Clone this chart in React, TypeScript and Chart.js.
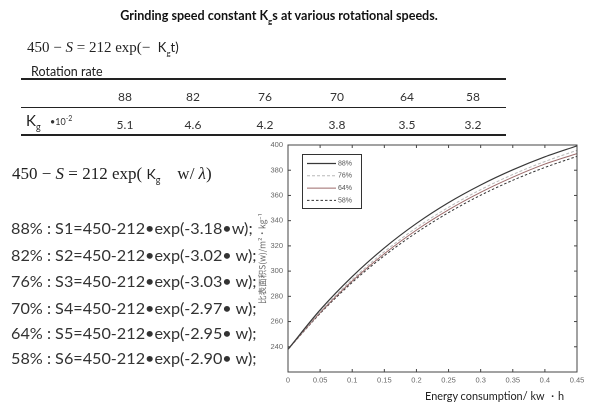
import React, { useEffect, useRef } from 'react';
import { Chart, registerables } from 'chart.js';

Chart.register(...registerables);

// ---- Data ----
const rotationRates = ['88', '82', '76', '70', '64', '58'];
const kgValues = ['5.1', '4.6', '4.2', '3.8', '3.5', '3.2'];
const fitLabels = ['88%', '82%', '76%', '70%', '64%', '58%'];
const fitNames = ['S1', 'S2', 'S3', 'S4', 'S5', 'S6'];
const fitCoefficients = ['-3.18•w', '-3.02• w', '-3.03• w', '-2.97• w', '-2.95• w', '-2.90• w'];

const energy = [0, 0.05, 0.1, 0.15, 0.2, 0.25, 0.3, 0.35, 0.4, 0.45];
const s88 = [238, 269.2, 295.7, 318.4, 337.8, 354.3, 368.3, 380.3, 390.6, 399.3];
const s76 = [238, 267.8, 293.4, 315.4, 334.4, 350.6, 364.6, 376.6, 386.9, 395.8];
const s64 = [238, 267.1, 292.2, 313.8, 332.5, 348.6, 362.5, 374.5, 384.9, 393.2];
const s58 = [238, 266.4, 291.0, 312.2, 330.5, 346.4, 360.2, 372.0, 382.2, 391.0];
const seriesLabels = ['88%', '76%', '64%', '58%'];

const xMin = 0;
const xMax = 0.45;
const xStep = 0.05;
const yMin = 220;
const yMax = 400;
const yStep = 20;

const sans = 'Lato, "Open Sans", sans-serif';

const framePlugin = {
  id: 'frameAndLegend',
  afterDatasetsDraw(chart: any) {
    const { ctx, chartArea: a, scales } = chart;
    ctx.save();
    ctx.strokeStyle = '#444';
    ctx.lineWidth = 1;
    ctx.strokeRect(a.left, a.top, a.right - a.left, a.bottom - a.top);
    const tl = 3;
    const seg = (x1: number, y1: number, x2: number, y2: number) => {
      ctx.beginPath();
      ctx.moveTo(x1, y1);
      ctx.lineTo(x2, y2);
      ctx.stroke();
    };
    scales.x.ticks.forEach((t: any) => {
      const px = scales.x.getPixelForValue(t.value);
      seg(px, a.bottom, px, a.bottom - tl);
      seg(px, a.top, px, a.top + tl);
    });
    scales.y.ticks.forEach((t: any) => {
      const py = scales.y.getPixelForValue(t.value);
      seg(a.left, py, a.left + tl, py);
      seg(a.right, py, a.right - tl, py);
    });

    // legend box
    const bx = a.left + 14;
    const by = a.top + 9;
    const bw = 59;
    const bh = 54;
    ctx.fillStyle = '#fff';
    ctx.fillRect(bx, by, bw, bh);
    ctx.strokeStyle = '#333';
    ctx.strokeRect(bx + 0.5, by + 0.5, bw, bh);
    ctx.font = '7px "Liberation Sans", sans-serif';
    ctx.textBaseline = 'middle';
    chart.data.datasets.forEach((ds: any, i: number) => {
      const yy = by + 9.5 + i * 12.3;
      ctx.strokeStyle = ds.borderColor;
      ctx.lineWidth = ds.borderWidth;
      ctx.setLineDash(ds.borderDash || []);
      seg(bx + 5, yy, bx + 34, yy);
      ctx.setLineDash([]);
      ctx.fillStyle = '#555';
      ctx.fillText(ds.label, bx + 36, yy);
    });
    ctx.restore();
  },
};

function ChartCanvas() {
  const ref = useRef<HTMLCanvasElement>(null);
  useEffect(() => {
    if (!ref.current) return;
    const toPts = (ys: number[]) => ys.map((y, i) => ({ x: energy[i], y }));
    const chart = new Chart(ref.current, {
      type: 'line',
      data: {
        datasets: [
          { label: seriesLabels[0], data: toPts(s88), borderColor: '#383838', borderWidth: 1.2, borderDash: [] },
          { label: seriesLabels[1], data: toPts(s76), borderColor: '#b9b9b9', borderWidth: 1, borderDash: [3, 2] },
          { label: seriesLabels[2], data: toPts(s64), borderColor: '#9c6b6b', borderWidth: 1, borderDash: [] },
          { label: seriesLabels[3], data: toPts(s58), borderColor: '#333333', borderWidth: 1, borderDash: [2.5, 2] },
        ] as any,
      },
      options: {
        animation: false,
        responsive: false,
        devicePixelRatio: 2,
        layout: { padding: { left: 253, right: 25, top: 145, bottom: 0 } },
        elements: {
          point: { radius: 0 },
          line: { cubicInterpolationMode: 'monotone' },
        },
        plugins: {
          legend: { display: false },
          tooltip: { enabled: false },
        },
        scales: {
          x: {
            type: 'linear',
            min: xMin,
            max: xMax,
            grid: { display: false, drawTicks: false },
            border: { display: false },
            ticks: {
              stepSize: xStep,
              padding: 4,
              color: '#666',
              font: { family: '"Liberation Sans", sans-serif', size: 7.5 },
              callback: (v: any) => String(Number(Number(v).toFixed(2))),
              maxRotation: 0,
            },
            afterFit: (s: any) => {
              s.height = 43;
            },
          },
          y: {
            type: 'linear',
            min: yMin,
            max: yMax,
            grid: { display: false, drawTicks: false },
            border: { display: false },
            ticks: {
              stepSize: yStep,
              padding: 5,
              color: '#666',
              font: { family: '"Liberation Sans", sans-serif', size: 7.5 },
              callback: (v: any) => (Number(v) === yMin ? '' : String(v)),
            },
            title: {
              display: true,
              text: '比表面积S(w)/m²·kg⁻¹',
              color: '#666',
              font: { family: '"Noto Sans CJK SC", sans-serif', size: 8.5 },
              padding: { top: 4, bottom: 0 },
            },
            afterFit: (s: any) => {
              s.width = 35;
            },
          },
        },
      },
      plugins: [framePlugin],
    } as any);
    return () => chart.destroy();
  }, []);
  return (
    <canvas
      ref={ref}
      width={602}
      height={415}
      style={{ position: 'absolute', left: 0, top: 0, width: 602, height: 415 }}
    />
  );
}

const abs = (left: number, top: number, extra: React.CSSProperties = {}): React.CSSProperties => ({
  position: 'absolute',
  left,
  top,
  whiteSpace: 'nowrap',
  lineHeight: 1,
  ...extra,
});

const colCenters = [125, 193, 265, 337, 407, 473];
const fitRowTops = [220, 246.5, 273, 299.5, 324.5, 349.5];

export default function App() {
  return (
    <div
      style={{
        position: 'fixed',
        left: 0,
        top: 0,
        width: 602,
        height: 415,
        background: '#fff',
        overflow: 'hidden',
        fontFamily: sans,
        color: '#222',
      }}
    >
      <ChartCanvas />

      {/* Title */}
      <div style={abs(0, 10, { width: 558, textAlign: 'center', fontWeight: 700, fontSize: 12.6, color: '#111' })}>
        Grinding speed constant K<sub style={{ fontSize: 8 }}>g</sub>s at various rotational speeds.
      </div>

      {/* Equation 1 */}
      <div style={abs(27, 40, { fontFamily: '"Liberation Serif", serif', fontSize: 15, color: '#222' })}>
        450 − <i>S</i> = 212 exp(−&nbsp;&nbsp;
        <span style={{ fontFamily: sans, fontSize: 13 }}>
          K<sub style={{ fontSize: 8 }}>g</sub>t)
        </span>
      </div>

      <div style={abs(31, 66, { fontSize: 12.5, color: '#222' })}>Rotation rate</div>

      {/* Table rules */}
      <div style={abs(21, 78, { width: 485, height: 2, background: '#222' })} />
      <div style={abs(21, 106.5, { width: 485, height: 1.5, background: '#222' })} />
      <div style={abs(21, 134, { width: 485, height: 1.5, background: '#222' })} />

      {rotationRates.map((r, i) => (
        <div key={'r' + i} style={abs(colCenters[i] - 20, 91, { width: 40, textAlign: 'center', fontSize: 12, color: '#333' })}>
          {r}
        </div>
      ))}
      <div style={abs(26, 113, { fontSize: 15, color: '#222' })}>
        K<sub style={{ fontSize: 9 }}>g</sub>
      </div>
      <div style={abs(50, 115, { fontSize: 9, color: '#333' })}>
        •10<sup style={{ fontSize: 7 }}>-2</sup>
      </div>
      {kgValues.map((v, i) => (
        <div key={'k' + i} style={abs(colCenters[i] - 20, 119, { width: 40, textAlign: 'center', fontSize: 12, color: '#333' })}>
          {v}
        </div>
      ))}

      {/* Equation 2 */}
      <div style={abs(12, 165, { fontFamily: '"Liberation Serif", serif', fontSize: 17, color: '#222' })}>
        450 − <i>S</i> = 212 exp(&nbsp;
        <span style={{ fontFamily: sans, fontSize: 14 }}>
          K<sub style={{ fontSize: 9 }}>g</sub>
        </span>
        &nbsp;&nbsp;&nbsp; w/ <i>λ</i>)
      </div>

      {fitLabels.map((l, i) => (
        <div key={'f' + i} style={abs(11, fitRowTops[i], { fontSize: 16.2, color: '#333' })}>
          {l} : {fitNames[i]}=450-212•exp({fitCoefficients[i]});
        </div>
      ))}

      <div style={abs(425, 391, { fontSize: 10.9, color: '#222' })}>Energy consumption/ kw ・h</div>
    </div>
  );
}
